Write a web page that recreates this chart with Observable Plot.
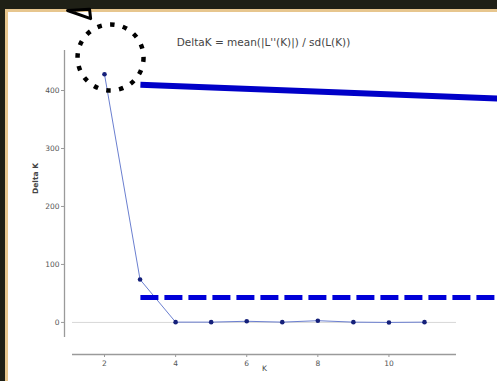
<!DOCTYPE html>
<html>
<head>
<meta charset="utf-8">
<script src="https://cdn.jsdelivr.net/npm/d3@7"></script>
<script src="https://cdn.jsdelivr.net/npm/@observablehq/plot@0.6"></script>
<style>
  html, body { margin: 0; padding: 0; }
  body { width: 497px; height: 381px; background: #1f2016; overflow: hidden; position: relative; }
  #panel { position: absolute; left: 5px; top: 9px; width: 489px; height: 369px;
           border-left: 3px solid #e7c68e; border-top: 3px solid #e7c68e; background: #ffffff; }
  #panel svg { overflow: visible; display: block; }
</style>
</head>
<body>
<div id="panel"></div>
<script>
// Chart data
const kValues = [2, 3, 4, 5, 6, 7, 8, 9, 10, 11];
const deltaK  = [428, 74, 0.5, 0.5, 2, 0.5, 3, 0.5, 0, 0.5];
const xTicks = [2, 4, 6, 8, 10];
const yTicks = [0, 100, 200, 300, 400];
const titleText = "DeltaK = mean(|L''(K)|) / sd(L(K))";
const yLabel = "Delta K";
const xLabel = "K";

// Slide annotations (in data coordinates)
const circleAt = [{x: 2.17, y: 457}];
const solidArrowLine = [{x: 3.01, y: 410}, {x: 13.05, y: 386}];
const dashedLine = [{x: 3.01, y: 43}, {x: 13.05, y: 43}];
const arrowHead = [{x: 0.96, y: 538}, {x: 1.61, y: 524}, {x: 1.58, y: 540}];

const data = kValues.map((k, i) => ({k, d: deltaK[i]}));

const chart = Plot.plot({
  width: 489,
  height: 369,
  marginLeft: 64,
  marginRight: 41,
  marginTop: 38,
  marginBottom: 44,
  style: {background: "transparent", fontFamily: "DejaVu Sans, sans-serif", overflow: "visible"},
  x: {domain: [1.1, 11.9]},
  y: {domain: [-26, 469]},
  marks: [
    Plot.ruleY([0], {stroke: "#d8d8d8", strokeWidth: 1}),
    // y axis (offset spine)
    Plot.ruleX([1.1], {y1: -26, y2: 469, dx: -8, stroke: "#9a9a9a", strokeWidth: 1.3}),
    Plot.axisY({ticks: yTicks, dx: -8, tickSize: 3, tickPadding: 2, label: null, fontSize: 7.5, color: "#555", stroke: "#9a9a9a"}),
    // x axis (offset spine)
    Plot.ruleY([-26], {x1: 1.1, x2: 11.9, dy: 17, stroke: "#9a9a9a", strokeWidth: 1.3}),
    Plot.axisX({ticks: xTicks, dy: 17, tickSize: 3, tickPadding: 3, label: null, fontSize: 7.5, color: "#555", stroke: "#9a9a9a"}),
    Plot.text([xLabel], {frameAnchor: "bottom", dy: 33, fontSize: 7.5, fill: "#444"}),
    Plot.text([yLabel], {frameAnchor: "left", dx: -37, rotate: -90, fontSize: 7.5, fill: "#444", fontWeight: "bold"}),
    Plot.text([titleText], {frameAnchor: "top", dy: -12, dx: -1, fontSize: 10.5, fill: "#444"}),
    // data
    Plot.line(data, {x: "k", y: "d", stroke: "#6b7fd0", strokeWidth: 1}),
    Plot.dot(data, {x: "k", y: "d", r: 2.3, fill: "#15207a", stroke: "none"}),
    // annotations
    Plot.dot(circleAt, {x: "x", y: "y", r: 33, fill: "none", stroke: "#000", strokeWidth: 4.5, strokeDasharray: "4.5,8.4", strokeLinecap: "butt", clip: false}),
    Plot.line(solidArrowLine, {x: "x", y: "y", stroke: "#0000c8", strokeWidth: 6, strokeLinecap: "butt", clip: false}),
    Plot.line(dashedLine, {x: "x", y: "y", stroke: "#0000d8", strokeWidth: 5, strokeDasharray: "18,6", strokeLinecap: "butt", clip: false}),
    Plot.line(arrowHead, {x: "x", y: "y", stroke: "#000", strokeWidth: 3, fill: "none", curve: "linear-closed", clip: false})
  ]
});
document.getElementById("panel").appendChild(chart);
</script>
</body>
</html>
